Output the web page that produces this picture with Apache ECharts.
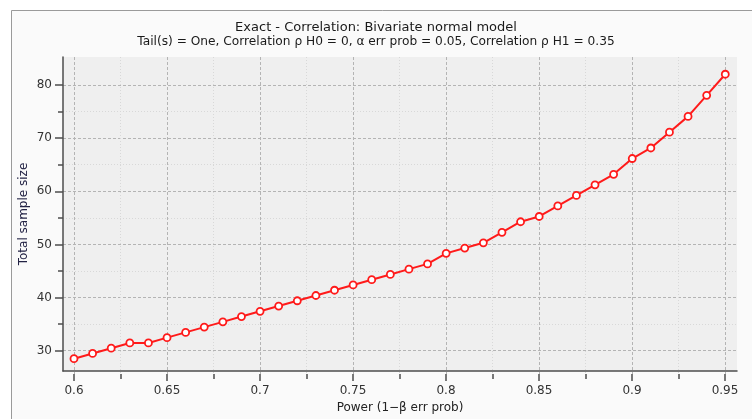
<!DOCTYPE html>
<html>
<head>
<meta charset="utf-8">
<script src="https://cdn.jsdelivr.net/npm/echarts@6/dist/echarts.min.js"></script>
<style>
html,body{margin:0;padding:0;background:#ffffff;}
#chart{width:752px;height:419px;}
</style>
</head>
<body>
<div id="chart"></div>
<script>
var titleText = 'Exact - Correlation: Bivariate normal model';
var subtitleText = 'Tail(s) = One, Correlation \u03c1 H0 = 0, \u03b1 err prob = 0.05, Correlation \u03c1 H1 = 0.35';
var xAxisName = 'Power (1\u2212\u03b2 err prob)';
var yAxisName = 'Total sample size';

var power = [0.60, 0.61, 0.62, 0.63, 0.64, 0.65, 0.66, 0.67, 0.68, 0.69,
             0.70, 0.71, 0.72, 0.73, 0.74, 0.75, 0.76, 0.77, 0.78, 0.79,
             0.80, 0.81, 0.82, 0.83, 0.84, 0.85, 0.86, 0.87, 0.88, 0.89,
             0.90, 0.91, 0.92, 0.93, 0.94, 0.95];
var sampleSize = [28, 29, 30, 31, 31, 32, 33, 34, 35, 36,
                  37, 38, 39, 40, 41, 42, 43, 44, 45, 46,
                  48, 49, 50, 52, 54, 55, 57, 59, 61, 63,
                  66, 68, 71, 74, 78, 82];

var xTickMin = 0.6, xTickMax = 0.95, xTickStep = 0.05;
var yTickMin = 30, yTickMax = 80, yTickStep = 10;

var FONT = 'DejaVu Sans';
var chart = echarts.init(document.getElementById('chart'), null, {renderer: 'canvas'});

var pts = power.map(function (p, i) { return [p, sampleSize[i]]; });

var majorSplit = {show: true, lineStyle: {color: '#b4b4b4', width: 1, type: [3, 2]}};
var minorSplit = {show: true, lineStyle: {color: '#d8d8d8', width: 1, type: [1, 2]}};
var labelStyle = {color: '#333333', fontFamily: FONT, fontSize: 12};

var option = {
  animation: false,
  backgroundColor: '#ffffff',
  graphic: [{
    type: 'rect', z: -10, silent: true,
    shape: {x: 11.5, y: 10.5, width: 800, height: 500},
    style: {fill: '#fafafa', stroke: '#9a9a9a', lineWidth: 1}
  }],
  title: [{
    text: titleText, left: 'center', top: 16,
    textStyle: {fontFamily: FONT, fontSize: 13, fontWeight: 'normal', color: '#1a1a1a'}
  }, {
    text: subtitleText, left: 'center', top: 31,
    textStyle: {fontFamily: FONT, fontSize: 12.2, fontWeight: 'normal', color: '#1a1a1a'}
  }],
  grid: [
    {left: 63, top: 57, width: 674, height: 317, show: true, backgroundColor: '#efefef', borderWidth: 0},
    {left: 74, top: 57, width: 651, height: 317, show: false},
    {left: 63, top: 85, width: 674, height: 265.7, show: false}
  ],
  xAxis: [{
    gridIndex: 0, type: 'value', min: 0.5941, max: 0.9563,
    name: xAxisName, nameLocation: 'middle', nameGap: 31,
    nameTextStyle: {color: '#222222', fontFamily: FONT, fontSize: 12},
    axisLine: {show: true, onZero: false, lineStyle: {color: '#4d4d4d', width: 1.5}},
    axisTick: {show: false}, axisLabel: {show: false}, splitLine: {show: false}
  }, {
    gridIndex: 1, type: 'value', min: xTickMin, max: xTickMax, interval: xTickStep,
    axisLine: {show: false},
    axisTick: {show: true, inside: false, length: 7, lineStyle: {color: '#4d4d4d', width: 1.5}},
    minorTick: {show: true, splitNumber: 2, length: 5, lineStyle: {color: '#4d4d4d', width: 1.5}},
    axisLabel: Object.assign({margin: 11, formatter: function (v) { return String(+v.toFixed(2)); }}, labelStyle),
    splitLine: majorSplit,
    minorSplitLine: minorSplit
  }, {
    gridIndex: 2, type: 'value', show: false, min: 0, max: 1
  }],
  yAxis: [{
    gridIndex: 0, type: 'value', min: 25.67, max: 85.27,
    name: yAxisName, nameLocation: 'middle', nameGap: 33,
    nameTextStyle: {color: '#222244', fontFamily: FONT, fontSize: 12},
    axisLine: {show: true, onZero: false, lineStyle: {color: '#4d4d4d', width: 1.5}},
    axisTick: {show: false}, axisLabel: {show: false}, splitLine: {show: false}
  }, {
    gridIndex: 1, type: 'value', show: false, min: 0, max: 1
  }, {
    gridIndex: 2, type: 'value', min: yTickMin, max: yTickMax, interval: yTickStep,
    axisLine: {show: false},
    axisTick: {show: true, inside: false, length: 8, lineStyle: {color: '#4d4d4d', width: 1.5}},
    minorTick: {show: true, splitNumber: 2, length: 5, lineStyle: {color: '#4d4d4d', width: 1.5}},
    axisLabel: Object.assign({margin: 11}, labelStyle),
    splitLine: majorSplit,
    minorSplitLine: minorSplit
  }],
  series: [{
    type: 'line', xAxisIndex: 0, yAxisIndex: 0,
    data: pts,
    symbol: 'circle', symbolSize: 7,
    lineStyle: {color: '#ff1a1a', width: 2},
    itemStyle: {color: '#ffffff', borderColor: '#ff1a1a', borderWidth: 1.8},
    z: 5
  }]
};
chart.setOption(option);
</script>
</body>
</html>
